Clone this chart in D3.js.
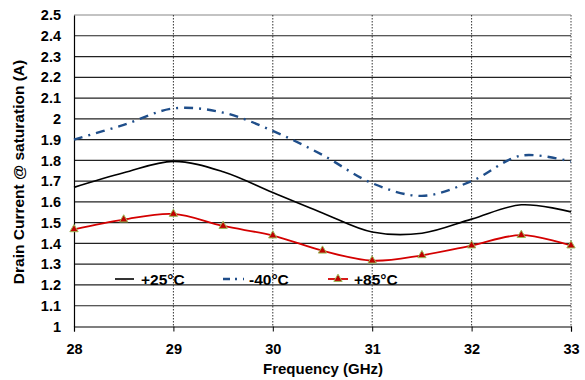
<!DOCTYPE html>
<html>
<head>
<meta charset="UTF-8"/>
<script src="https://d3js.org/d3.v7.min.js"></script>
<style>
  body { margin: 0; background: #fff; }
  text { font-family: "Liberation Sans", Arial, sans-serif; font-weight: bold; }
</style>
</head>
<body>
<script>
	var w = 585;
	var h = 380;
	var margin = {top: 15, right: 14, bottom: 53.5, left: 74};

	// frequency points (GHz)
	var freq = [28, 28.5, 29, 29.5, 30, 30.5, 31, 31.5, 32, 32.5, 33];
	// drain current @ saturation (A)
	var t25 = [1.67, 1.74, 1.795, 1.745, 1.645, 1.547, 1.455, 1.449, 1.517, 1.586, 1.552];
	var tm40 = [1.90, 1.971, 2.05, 2.03, 1.942, 1.826, 1.69, 1.629, 1.70, 1.823, 1.794];
	var t85 = [1.468, 1.515, 1.542, 1.484, 1.438, 1.365, 1.317, 1.343, 1.39, 1.44, 1.39];
	var xTicks = [28, 29, 30, 31, 32, 33];
	var yTicks = d3.range(10, 26).map(function(d){ return d / 10; });

	var xScale = d3.scaleLinear().domain([28, 33]).range([margin.left, w - margin.right]);
	var yScale = d3.scaleLinear().domain([1, 2.5]).range([h - margin.bottom, margin.top]);

	var svg = d3.select("body").append("svg")
		.attr("width", w)
		.attr("height", h);

	// horizontal grid lines
	svg.append("g").selectAll("line")
		.data(yTicks.slice(1))
		.enter().append("line")
		.attr("x1", margin.left).attr("x2", w - margin.right)
		.attr("y1", function(d){ return yScale(d); })
		.attr("y2", function(d){ return yScale(d); })
		.attr("stroke", function(d){ return d === 2.5 ? "#888" : "#222"; })
		.attr("stroke-width", 1.2);

	// vertical dotted grid lines
	svg.append("g").selectAll("line")
		.data(xTicks.slice(1))
		.enter().append("line")
		.attr("x1", function(d){ return xScale(d); })
		.attr("x2", function(d){ return xScale(d); })
		.attr("y1", margin.top).attr("y2", h - margin.bottom)
		.attr("stroke", function(d){ return d === 33 ? "#888" : "#333"; })
		.attr("stroke-width", function(d){ return d === 33 ? 1.6 : 1; })
		.attr("stroke-dasharray", "1.5,1.5");

	// axes
	var xAxis = d3.axisBottom(xScale).tickValues(xTicks).tickSize(5).tickFormat(d3.format("d"));
	var yAxis = d3.axisLeft(yScale).tickValues(yTicks).tickSize(0).tickFormat(function(d){ return String(d); });

	var gx = svg.append("g")
		.attr("transform", "translate(0," + (h - margin.bottom) + ")")
		.call(xAxis);
	gx.select(".domain").attr("stroke", "#000").attr("stroke-width", 1.2);
	gx.selectAll(".tick text").attr("font-size", 14.5).attr("y", 14).attr("dy", "0.9em").attr("fill", "#000");

	var gy = svg.append("g")
		.attr("transform", "translate(" + margin.left + ",0)")
		.call(yAxis);
	gy.select(".domain").attr("stroke", "#000").attr("stroke-width", 1.2);
	gy.selectAll(".tick text").attr("font-size", 14.5).attr("x", -13).attr("fill", "#000");

	// series lines
	function lineOf(vals) {
		return d3.line()
			.x(function(d, i){ return xScale(freq[i]); })
			.y(function(d){ return yScale(d); })
			.curve(d3.curveCatmullRom.alpha(0.5))(vals);
	}

	svg.append("path").attr("d", lineOf(t25))
		.attr("fill", "none").attr("stroke", "#000").attr("stroke-width", 1.6);

	svg.append("path").attr("d", lineOf(tm40))
		.attr("fill", "none").attr("stroke", "#1f4e8a").attr("stroke-width", 2.4)
		.attr("stroke-dasharray", "9,6,2,6");

	svg.append("path").attr("d", lineOf(t85))
		.attr("fill", "none").attr("stroke", "#d40000").attr("stroke-width", 1.8);

	var tri = d3.symbol().type(d3.symbolTriangle).size(30);
	svg.append("g").selectAll("path")
		.data(t85)
		.enter().append("path")
		.attr("d", tri)
		.attr("transform", function(d, i){ return "translate(" + xScale(freq[i]) + "," + yScale(d) + ")"; })
		.attr("fill", "#c00000")
		.attr("stroke", "#9bbb59")
		.attr("stroke-width", 1);

	// legend
	var legY = 279;
	svg.append("line").attr("x1", 115).attr("x2", 134).attr("y1", legY).attr("y2", legY)
		.attr("stroke", "#000").attr("stroke-width", 1.6);
	svg.append("text").attr("x", 141).attr("y", legY + 6).attr("font-size", 15.5).text("+25°C");

	svg.append("line").attr("x1", 223).attr("x2", 244).attr("y1", legY).attr("y2", legY)
		.attr("stroke", "#1f4e8a").attr("stroke-width", 2.4).attr("stroke-dasharray", "7,5,2,6");
	svg.append("text").attr("x", 249).attr("y", legY + 6).attr("font-size", 15.5).text("-40°C");

	svg.append("line").attr("x1", 328).attr("x2", 348).attr("y1", legY).attr("y2", legY)
		.attr("stroke", "#d40000").attr("stroke-width", 1.8);
	svg.append("path").attr("d", tri).attr("transform", "translate(338," + legY + ")")
		.attr("fill", "#c00000").attr("stroke", "#9bbb59").attr("stroke-width", 1);
	svg.append("text").attr("x", 354).attr("y", legY + 6).attr("font-size", 15.5).text("+85°C");

	// axis titles
	svg.append("text")
		.attr("x", 323).attr("y", 374)
		.attr("text-anchor", "middle").attr("font-size", 15)
		.text("Frequency (GHz)");
	svg.append("text")
		.attr("transform", "rotate(-90)")
		.attr("x", -172).attr("y", 24)
		.attr("text-anchor", "middle").attr("font-size", 15.5)
		.text("Drain Current @ saturation  (A)");
</script>
</body>
</html>
